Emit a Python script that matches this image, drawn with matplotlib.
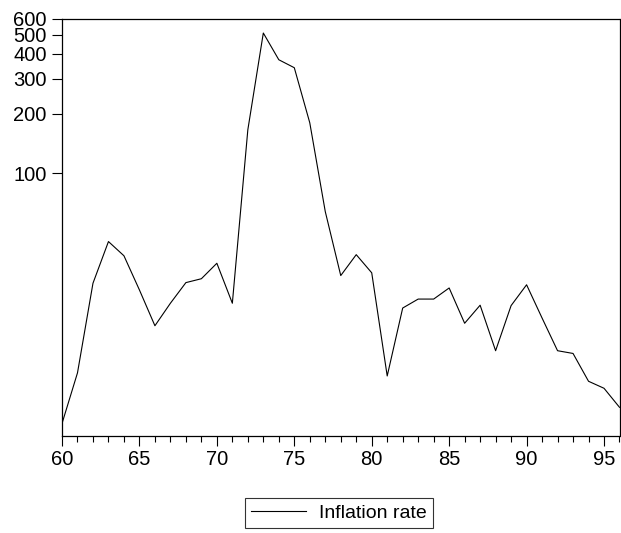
import matplotlib
matplotlib.use("Agg")
from matplotlib import pyplot as plt
from matplotlib.ticker import FixedLocator, NullLocator, MultipleLocator

plt.rcParams['font.family'] = ['Liberation Sans', 'DejaVu Sans']

# annual inflation rate, 1960-1996 (log scale)
years = list(range(60, 97))
inflation = [5.5, 9.9, 28.0, 45.4, 38.5, 25.9, 17.1, 22.2, 28.2, 29.5,
             35.3, 22.2, 166.0, 510.0, 374.0, 341.0, 180.0, 64.3, 30.6, 39.0,
             31.6, 9.55, 21.0, 23.3, 23.3, 26.5, 17.6, 21.7, 12.8, 21.6,
             27.5, 18.7, 12.8, 12.4, 8.98, 8.28, 6.64]
ytick_vals = [100, 200, 300, 400, 500, 600]

fig = plt.figure(figsize=(6.21, 5.33), dpi=100)
ax = fig.add_axes([62 / 621, 1 - 436 / 533, (619.5 - 62) / 621, (436 - 19) / 533])

line, = ax.plot(years, inflation, color='black', lw=0.8, label='Inflation rate')

ax.set_yscale('log')
ax.set_ylim(4.76, 600)
ax.set_xlim(60, 96)

ax.yaxis.set_major_locator(FixedLocator(ytick_vals))
ax.yaxis.set_minor_locator(NullLocator())
ax.set_yticklabels([str(v) for v in ytick_vals])
ax.xaxis.set_major_locator(MultipleLocator(5))
ax.xaxis.set_minor_locator(MultipleLocator(1))

ax.tick_params(axis='both', which='major', direction='out', length=7, width=0.8,
               labelsize=14.5, colors='black', pad=3)
ax.tick_params(axis='x', which='minor', direction='out', length=4.5, width=0.8)
ax.tick_params(axis='y', pad=4)
for s in ax.spines.values():
    s.set_linewidth(0.9)

leg = fig.legend(handles=[line], loc='center', bbox_to_anchor=(339 / 621, 1 - 513 / 533),
                 fontsize=14, frameon=True, fancybox=False, edgecolor='black',
                 handlelength=2.8, borderpad=0.3, handletextpad=0.7, borderaxespad=0)
leg.get_frame().set_linewidth(0.8)

fig.savefig('out.png', dpi=100)
